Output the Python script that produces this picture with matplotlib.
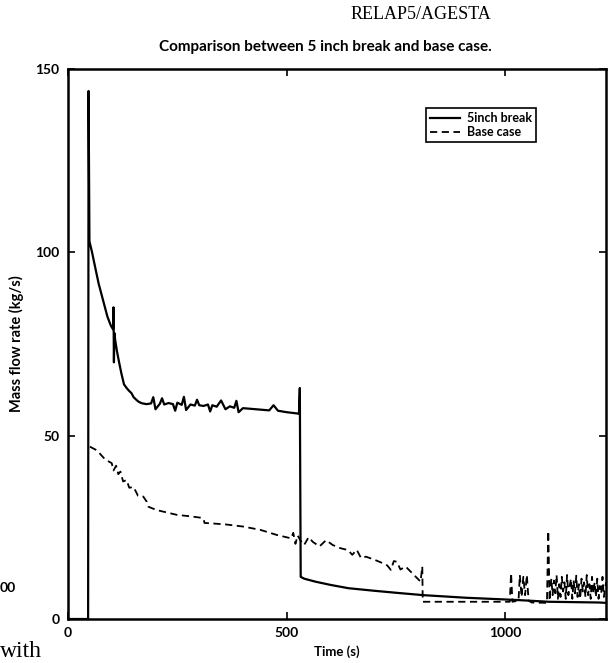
import matplotlib
matplotlib.use("Agg")
import matplotlib.pyplot as plt

# ---- data ----
break_t = [0, 46, 47, 49, 55, 62, 70, 80, 90, 98, 103, 104, 105, 106, 108, 112, 116, 122, 128,
           134, 139, 145, 150, 156, 162, 170, 180, 190, 195, 200, 210, 215, 220, 230, 240, 245,
           250, 260, 265, 270, 280, 290, 295, 300, 310, 320, 325, 330, 340, 350, 360, 370, 380,
           385, 390, 400, 420, 440, 460, 470, 480, 500, 528, 530, 532, 540, 565, 600, 641, 700,
           755, 813, 909, 1023, 1100, 1214, 1230]
break_v = [0, 0, 144, 103, 100, 96, 91.5, 87, 82.5, 80, 79, 85, 70, 78, 76, 73, 70.5, 67, 64,
           63, 62.3, 61.6, 60.5, 59.8, 59.2, 58.8, 58.6, 58.8, 60.5, 57.2, 58.7, 60.2, 58.5, 58.9,
           58.6, 56.8, 59.0, 58.4, 60.6, 57.0, 58.5, 58.2, 59.8, 58.3, 58.1, 58.5, 56.6, 58.3, 57.9,
           59.6, 57.2, 58.0, 57.6, 59.5, 56.4, 57.5, 57.3, 57.1, 56.9, 58.3, 56.8, 56.4, 56.0, 63,
           11.5, 11.0, 10.2, 9.3, 8.4, 7.7, 7.1, 6.5, 5.8, 5.2, 4.7, 4.5, 4.4]

base_t = [50, 66, 85, 100, 104, 110, 115, 120, 126, 134, 140, 150, 160, 172, 180, 184, 203,
          249, 280, 305, 310, 312, 325, 360, 401, 440, 478, 510, 515, 520, 525, 531, 540, 550,
          560, 575, 590, 605, 620, 640, 650, 660, 670, 681, 700, 718, 730, 738, 745, 752, 760,
          772, 791, 806, 810, 811, 1010, 1013, 1016, 1030, 1033, 1037, 1041, 1045, 1049, 1053,
          1060, 1095, 1098, 1101, 1105, 1108, 1111, 1114, 1117, 1120, 1123, 1126, 1129, 1132,
          1135, 1138, 1141, 1144, 1147, 1150, 1153, 1156, 1159, 1162, 1165, 1168, 1171, 1174,
          1177, 1180, 1183, 1186, 1189, 1192, 1195, 1198, 1201, 1204, 1207, 1210, 1213, 1216,
          1219, 1222, 1225, 1230]
base_v = [47, 46, 43.5, 42.5, 40.5, 41.8, 39.5, 40.2, 37.5, 37.9, 35.8, 36, 33.6, 33.4, 32,
          30.6, 29.7, 28.4, 28, 27.6, 27.3, 26.2, 26.1, 25.8, 25.2, 24.3, 22.9, 22, 23.5, 20.5,
          22.8, 21.5, 20.2, 22.3, 21, 19.8, 21.5, 20.2, 19.4, 18.8, 17.5, 18.9, 16.6, 17, 16.2,
          15.3, 14.6, 13.4, 15.8, 15.6, 13.5, 14.3, 12, 10.2, 14.3, 4.7, 4.7, 12.5, 4.7, 5, 12,
          6, 11.5, 6.5, 12, 5, 4.5, 4.4, 24, 5, 11, 6.5, 10.5, 7, 12, 5.5, 9.5, 6, 11.5, 7.5,
          10, 5.5, 12, 6.5, 9, 11, 5.5, 10.5, 7, 11.8, 6, 9.5, 5.5, 11, 7.5, 10, 6, 12, 6.5,
          9.5, 5.5, 11.5, 7, 10, 6, 11, 5.5, 9, 7, 11.5, 6, 10]

x_ticks = [0, 500, 1000]
y_ticks = [0, 50, 100, 150]

sans = ["Lato", "DejaVu Sans"]
serif = ["Liberation Serif", "DejaVu Serif"]

fig = plt.figure(figsize=(6.08, 6.63), dpi=100)
ax = fig.add_axes([68 / 608, 44 / 663, 538 / 608, 550 / 663])

ax.plot(break_t, break_v, color="black", lw=1.6, label="5inch break")
ax.plot(base_t, base_v, color="black", lw=1.3, ls=(0, (4, 2.5)), label="Base case")

ax.set_xlim(0, 1230)
ax.set_ylim(0, 150)
ax.set_xticks(x_ticks)
ax.set_yticks(y_ticks)
ax.tick_params(direction="in", length=5, width=1.2, top=True, right=True,
               labelsize=10, pad=6)
for lab in ax.get_xticklabels() + ax.get_yticklabels():
    lab.set_fontfamily(sans)
    lab.set_fontweight("bold")
for s in ax.spines.values():
    s.set_linewidth(1.8)

ax.set_xlabel("Time (s)", fontsize=9.5, fontweight="bold", family=sans, labelpad=4)
ax.set_ylabel("Mass flow rate (kg/s)", fontsize=10.5, fontweight="bold", family=sans, labelpad=8)

leg = ax.legend(loc="upper right", bbox_to_anchor=(0.882, 0.94), fancybox=False,
                framealpha=1, edgecolor="black", handlelength=2.4, borderpad=0.3,
                labelspacing=0.2, handletextpad=0.6,
                prop={"family": sans, "weight": "bold", "size": 9})
leg.get_frame().set_linewidth(1.2)

fig.text(0.693, 0.978, "RELAP5/AGESTA", ha="center", va="center", fontsize=13, family=serif)
fig.text(0.535, 0.929, "Comparison between 5 inch break and base case.", ha="center",
         va="center", fontsize=11, fontweight="bold", family=sans)
fig.text(0.0, 0.113, "00", ha="left", va="center", fontsize=10, fontweight="bold", family=sans)
fig.text(0.0, 0.018, "with", ha="left", va="center", fontsize=17, family=serif)

fig.savefig("out.png", dpi=100)
